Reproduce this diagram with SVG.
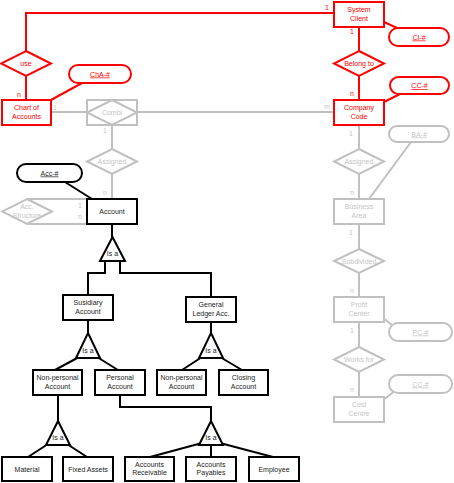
<svg xmlns="http://www.w3.org/2000/svg" width="454" height="483" viewBox="0 0 454 483">
<style>
text{font-family:"Liberation Sans",Arial,sans-serif;font-size:7px;text-anchor:middle}
.r{fill:#fff;stroke:#ff0000;stroke-width:2}
.g{fill:#fff;stroke:#c0c0c0;stroke-width:2}
.k{fill:#fff;stroke:#000;stroke-width:2}
.rl{fill:none;stroke:#ff0000;stroke-width:2}
.gl{fill:none;stroke:#c0c0c0;stroke-width:2}
.kl{fill:none;stroke:#000;stroke-width:2}
.rt{fill:#ff0000}
.gt{fill:#c4c4c4}
.kt{fill:#222}
.u{text-decoration:underline}
</style>
<rect width="454" height="483" fill="#fff"/>
<g id="connectors">
<path class="rl" d="M26,51V13H334"/>
<path class="rl" d="M26,76V100"/>
<path class="rl" d="M51,100L82,83"/>
<path class="rl" d="M384,22L397,28"/>
<path class="rl" d="M359,27V51M359,76V100"/>
<path class="rl" d="M384,102L400,94"/>
<path class="gl" d="M51,112H87M137,112H334"/>
<path class="gl" d="M112,125V149M112,174V199"/>
<path class="gl" d="M359,125V149M359,174V199M359,224V249M359,273V297M359,322V347M359,372V397"/>
<path class="gl" d="M411,142L369,199"/>
<path class="gl" d="M383,318L392,325"/>
<path class="gl" d="M383,400L396,390"/>
<path class="gl" d="M27,199H87M27,224H87"/>
<path class="kl" d="M65,182L92,199"/>
<path class="kl" d="M112,224V237"/>
<path class="kl" d="M105,261V273H88V295M120,261V273H211V297"/>
<path class="kl" d="M88,320V333"/>
<path class="kl" d="M79,357L55,370M97,357L118,370"/>
<path class="kl" d="M211,322V333"/>
<path class="kl" d="M202,357L182,370M220,357L242,370"/>
<path class="kl" d="M58,395V421"/>
<path class="kl" d="M48,444L28,457M67,444L87,457"/>
<path class="kl" d="M120,395V407H211V421"/>
<path class="kl" d="M202,443L150,457M211,445V457M220,443L273,457"/>
</g>
<g id="labels">
<text class="rt" x="327" y="10">1</text>
<text class="rt" x="19" y="97">n</text>
<text class="rt" x="352" y="34">1</text>
<text class="rt" x="352" y="96">n</text>
<text class="gt" x="55" y="110">1</text>
<text class="gt" x="327" y="109">m</text>
<text class="gt" x="105" y="133">1</text>
<text class="gt" x="351" y="136">1</text>
<text class="gt" x="105" y="195">n</text>
<text class="gt" x="352" y="195">n</text>
<text class="gt" x="351" y="235">1</text>
<text class="gt" x="352" y="293">n</text>
<text class="gt" x="352" y="333">1</text>
<text class="gt" x="352" y="392">n</text>
<text class="gt" x="80" y="208">1</text>
<text class="gt" x="80" y="219">n</text>
</g>
<g id="system-client"><rect class="r" x="334" y="2" width="50" height="25"/><text class="rt" x="359" y="12.3">System</text><text class="rt" x="359" y="20.6">Client</text></g>
<g id="ci-key"><rect class="r" x="389" y="28" width="60" height="18" rx="9"/><text class="rt u" x="419" y="39.5">CI-#</text></g>
<g id="use"><polygon class="r" points="26,51 51,63.5 26,76 1,63.5"/><text class="rt" x="26" y="66">use</text></g>
<g id="belong-to"><polygon class="r" points="359,51 384,63.5 359,76 334,63.5"/><text class="rt" x="359" y="66">Belong to</text></g>
<g id="cha-key"><rect class="r" x="69" y="65" width="62" height="18" rx="9"/><text class="rt u" x="100" y="76.5">ChA-#</text></g>
<g id="cc-key"><rect class="r" x="390" y="77" width="59" height="17" rx="8.5"/><text class="rt u" x="419.5" y="88">CC-#</text></g>
<g id="chart-of-accounts"><rect class="r" x="2" y="100" width="49" height="25"/><text class="rt" x="26.5" y="110.3">Chart of</text><text class="rt" x="26.5" y="118.6">Accounts</text></g>
<g id="company-code"><rect class="r" x="334" y="100" width="50" height="25"/><text class="rt" x="359" y="110.3">Company</text><text class="rt" x="359" y="118.6">Code</text></g>
<g id="combi"><rect class="g" x="87" y="100" width="50" height="25"/><polygon class="g" points="112,100 137,112.5 112,125 87,112.5"/><text class="gt" x="112" y="115">Combi</text></g>
<g id="assigned-left"><polygon class="g" points="112,149 137,161.5 112,174 87,161.5"/><text class="gt" x="112" y="164">Assigned</text></g>
<g id="assigned-right"><polygon class="g" points="359,149 384,161.5 359,174 334,161.5"/><text class="gt" x="359" y="164">Assigned</text></g>
<g id="ba-key"><rect class="g" x="389" y="126" width="60" height="16" rx="8"/><text class="gt u" x="419" y="136.5">BA-#</text></g>
<g id="acc-key"><rect class="k" x="17" y="164" width="65" height="18" rx="9"/><text class="kt u" x="49.5" y="175.5">Acc-#</text></g>
<g id="acc-structure"><polygon class="g" points="27,199 52,211.5 27,224 2,211.5"/><text class="gt" x="27" y="209.3">Acc.</text><text class="gt" x="27" y="217.6">Structure</text></g>
<g id="account"><rect class="k" x="87" y="199" width="50" height="25"/><text class="kt" x="112" y="214">Account</text></g>
<g id="business-area"><rect class="g" x="334" y="199" width="50" height="25"/><text class="gt" x="359" y="209.3">Business</text><text class="gt" x="359" y="217.6">Area</text></g>
<g id="isa-account"><polygon class="k" points="112.5,237 125,261 100,261"/><text class="kt" x="112.5" y="256">Is a</text></g>
<g id="subdivided"><polygon class="g" points="359,249 384,261 359,273 334,261"/><text class="gt" x="359" y="263.5">Subdivided</text></g>
<g id="susidiary-account"><rect class="k" x="63" y="295" width="50" height="25"/><text class="kt" x="88" y="305.3">Susidiary</text><text class="kt" x="88" y="313.6">Account</text></g>
<g id="general-ledger"><rect class="k" x="186" y="297" width="50" height="25"/><text class="kt" x="211" y="307.3">General</text><text class="kt" x="211" y="315.6">Ledger Acc.</text></g>
<g id="profit-center"><rect class="g" x="334" y="297" width="50" height="25"/><text class="gt" x="359" y="307.3">Profit</text><text class="gt" x="359" y="315.6">Center</text></g>
<g id="pc-key"><rect class="g" x="389" y="323" width="63" height="18" rx="9"/><text class="gt u" x="420.5" y="334.5">PC-#</text></g>
<g id="isa-susidiary"><polygon class="k" points="88,333 100,358 76,358"/><text class="kt" x="88" y="352.5">Is a</text></g>
<g id="isa-general"><polygon class="k" points="211,333 223,358 199,358"/><text class="kt" x="211" y="352.5">Is a</text></g>
<g id="works-for"><polygon class="g" points="359,347 384,359.5 359,372 334,359.5"/><text class="gt" x="359" y="362">Works for</text></g>
<g id="non-personal-1"><rect class="k" x="33" y="370" width="49" height="25"/><text class="kt" x="57.5" y="380.3">Non-personal</text><text class="kt" x="57.5" y="388.6">Account</text></g>
<g id="personal"><rect class="k" x="95" y="370" width="50" height="25"/><text class="kt" x="120" y="380.3">Personal</text><text class="kt" x="120" y="388.6">Account</text></g>
<g id="non-personal-2"><rect class="k" x="157" y="370" width="49" height="25"/><text class="kt" x="181.5" y="380.3">Non-personal</text><text class="kt" x="181.5" y="388.6">Account</text></g>
<g id="closing"><rect class="k" x="219" y="370" width="49" height="25"/><text class="kt" x="243.5" y="380.3">Closing</text><text class="kt" x="243.5" y="388.6">Account</text></g>
<g id="cc-key-2"><rect class="g" x="389" y="375" width="63" height="18" rx="9"/><text class="gt u" x="420.5" y="386.5">CC-#</text></g>
<g id="cost-centre"><rect class="g" x="334" y="397" width="50" height="25"/><text class="gt" x="359" y="407.3">Cost</text><text class="gt" x="359" y="415.6">Centre</text></g>
<g id="isa-nonpersonal"><polygon class="k" points="58,421 70,445 46,445"/><text class="kt" x="58" y="439.5">Is a</text></g>
<g id="isa-personal"><polygon class="k" points="211,421 223,445 199,445"/><text class="kt" x="211" y="439.5">Is a</text></g>
<g id="material"><rect class="k" x="2" y="457" width="50" height="24"/><text class="kt" x="27" y="471.5">Material</text></g>
<g id="fixed-assets"><rect class="k" x="63" y="457" width="50" height="24"/><text class="kt" x="88" y="471.5">Fixed Assets</text></g>
<g id="accounts-receivable"><rect class="k" x="125" y="457" width="49" height="24"/><text class="kt" x="149.5" y="467">Accounts</text><text class="kt" x="149.5" y="475.3">Receivable</text></g>
<g id="accounts-payables"><rect class="k" x="186" y="457" width="50" height="24"/><text class="kt" x="211" y="467">Accounts</text><text class="kt" x="211" y="475.3">Payables</text></g>
<g id="employee"><rect class="k" x="249" y="457" width="50" height="24"/><text class="kt" x="274" y="471.5">Employee</text></g>
</svg>
